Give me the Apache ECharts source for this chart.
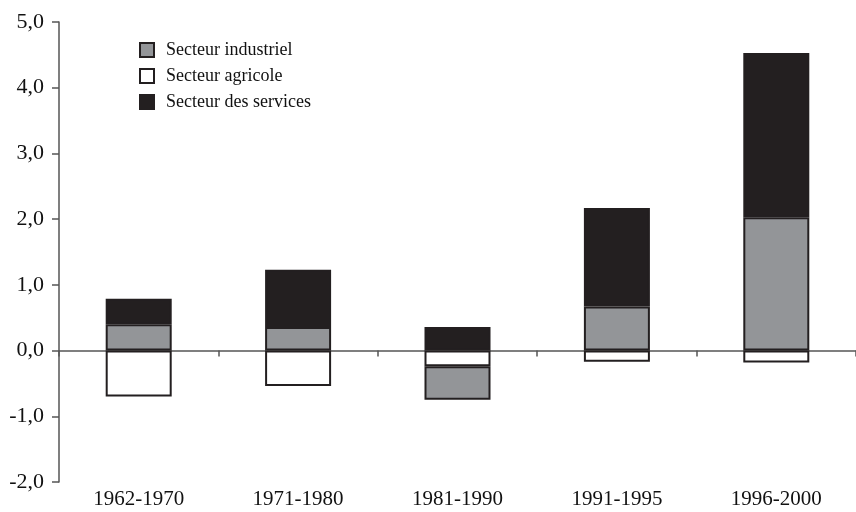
<!DOCTYPE html>
<html>
<head>
<meta charset="utf-8">
<script src="https://cdn.jsdelivr.net/npm/echarts@6/dist/echarts.min.js"></script>
<style>html,body{margin:0;padding:0;background:#fff}#c{width:856px;height:512px}</style>
</head>
<body>
<div id="c"></div>
<script>
var categories = ['1962-1970', '1971-1980', '1981-1990', '1991-1995', '1996-2000'];
var industriel = [0.40, 0.36, -0.51, 0.67, 2.03];
var agricole = [-0.70, -0.54, -0.24, -0.17, -0.18];
var services = [0.39, 0.87, 0.36, 1.50, 2.50];
var seriesNames = ['Secteur industriel', 'Secteur agricole', 'Secteur des services'];

var font = '"Liberation Serif", "Times New Roman", serif';
var dark = '#231f20';
var gray = '#939598';

var chart = echarts.init(document.getElementById('c'));
function bar(name, data, color) {
  return {
    name: name, type: 'bar', stack: 'total', data: data,
    xAxisIndex: 0, yAxisIndex: 0,
    barWidth: 66,
    itemStyle: { color: color, borderColor: dark, borderWidth: 2 },
    emphasis: { disabled: true }
  };
}
chart.setOption({
  animation: false,
  backgroundColor: '#fff',
  grid: { left: 59, top: 22, bottom: 30, width: 800 },
  legend: {
    orient: 'vertical', left: 139, top: 41, padding: 0,
    itemWidth: 14, itemHeight: 14, itemGap: 8,
    textStyle: { fontFamily: font, fontSize: 18, color: '#111', padding: [0, 0, 0, 7] },
    data: [
      { name: seriesNames[0], icon: 'rect', itemStyle: { color: gray, borderColor: dark, borderWidth: 2 } },
      { name: seriesNames[1], icon: 'rect', itemStyle: { color: '#fff', borderColor: dark, borderWidth: 2 } },
      { name: seriesNames[2], icon: 'rect', itemStyle: { color: dark, borderColor: dark, borderWidth: 2 } }
    ]
  },
  xAxis: [
    {
      type: 'category', data: categories, position: 'bottom',
      axisLine: { onZero: true, lineStyle: { color: '#555', width: 1.5 } },
      axisTick: { show: true, length: 6, lineStyle: { color: '#555', width: 1.5 } },
      axisLabel: { show: false }
    },
    {
      type: 'category', data: categories, position: 'bottom',
      axisLine: { show: false, onZero: false },
      axisTick: { show: false },
      axisLabel: { margin: 7, fontFamily: font, fontSize: 21, color: '#111' }
    }
  ],
  yAxis: {
    type: 'value', min: -2, max: 5, interval: 1,
    splitLine: { show: false },
    axisLine: { show: true, lineStyle: { color: '#555', width: 1.5 } },
    axisTick: { show: true, length: 7, lineStyle: { color: '#555', width: 1.5 } },
    axisLabel: {
      margin: 15, fontFamily: font, fontSize: 22, color: '#111',
      formatter: function (v) { return v.toFixed(1).replace('.', ','); }
    }
  },
  series: [
    bar(seriesNames[1], agricole, '#fff'),
    bar(seriesNames[0], industriel, gray),
    bar(seriesNames[2], services, dark)
  ]
});
</script>
</body>
</html>
